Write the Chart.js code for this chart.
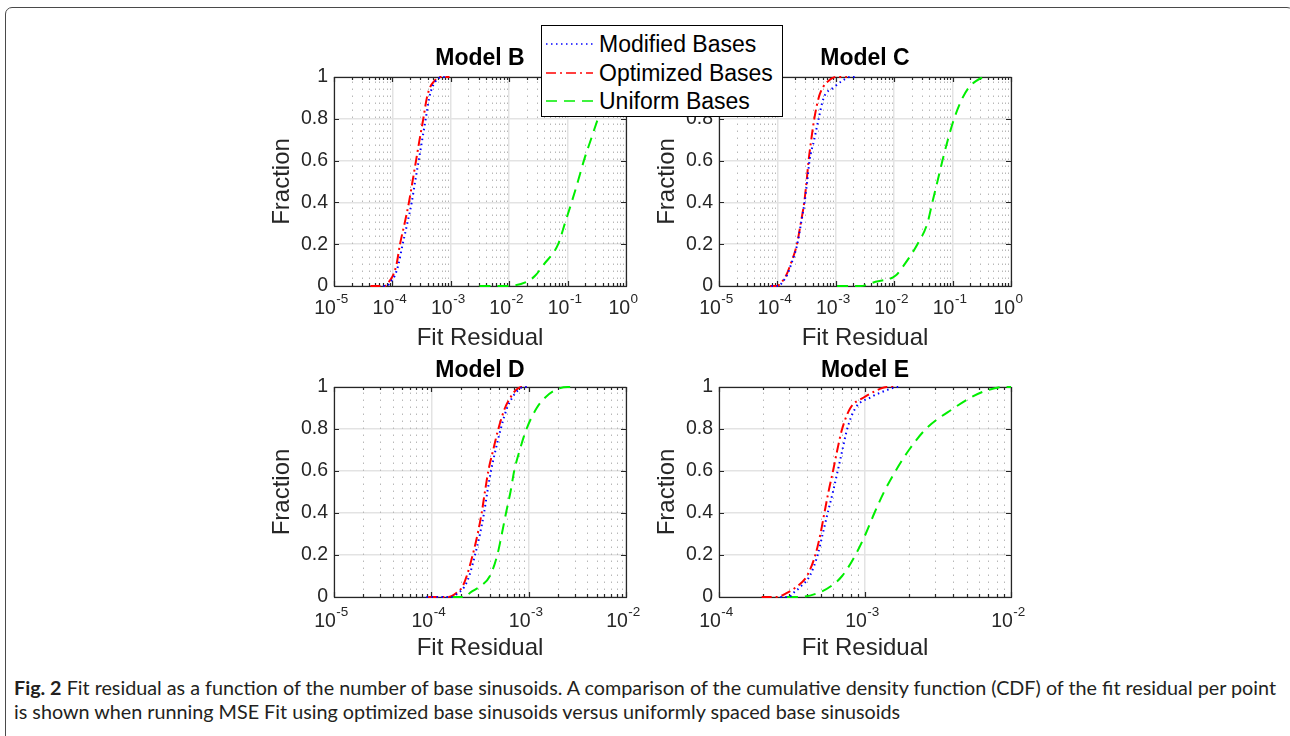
<!DOCTYPE html>
<html>
<head>
<meta charset="utf-8">
<script src="https://cdn.jsdelivr.net/npm/chart.js@4.4.0/dist/chart.umd.min.js"></script>
<style>
    body { margin: 0; width: 1290px; height: 736px; overflow: hidden; position: relative; background: #fff; font-family: "Liberation Sans", Arial, Helvetica, sans-serif; }
    .moldura { position: absolute; left: 5px; top: 7px; width: 1287px; height: 760px; border: 1.5px solid #4a4a4a; border-radius: 7px; }
    .painel { position: absolute; }
    #legenda { position: absolute; left: 541px; top: 25px; width: 242px; height: 92px; border: 1px solid #000; background: #fff; box-sizing: border-box; z-index: 5; }
    .itemLegenda { position: absolute; left: 0; height: 28px; line-height: 28px; font-size: 23px; color: #000; white-space: nowrap; }
    .itemLegenda svg { position: absolute; left: 4px; top: 9px; }
    .itemLegenda span { position: absolute; left: 57px; }
    .legenda { position: absolute; left: 14px; top: 676px; font-family: Lato, "Open Sans", sans-serif; font-size: 19.5px; line-height: 24px; color: #231f20; }
    .legenda div { white-space: nowrap; transform-origin: left top; display: inline-block; }
</style>
</head>
<body>
<div class="moldura"></div>

<div class="painel" id="painelB"><canvas id="graficoB"></canvas></div>
<div class="painel" id="painelC"><canvas id="graficoC"></canvas></div>
<div class="painel" id="painelD"><canvas id="graficoD"></canvas></div>
<div class="painel" id="painelE"><canvas id="graficoE"></canvas></div>

<div id="legenda"></div>

<div class="legenda">
    <div id="linha1"><b>Fig. 2</b> Fit residual as a function of the number of base sinusoids. A comparison of the cumulative density function (CDF) of the fit residual per point</div><br>
    <div id="linha2">is shown when running MSE Fit using optimized base sinusoids versus uniformly spaced base sinusoids</div>
</div>

<script>
// fracoes acumuladas (eixo y), comuns a todas as curvas
const fracoes = [0, 0, 0.02, 0.05, 0.1, 0.2, 0.3, 0.4, 0.5, 0.6, 0.7, 0.8, 0.9, 0.95, 0.98, 1, 1]

const nomesSeries = ['Modified Bases', 'Optimized Bases', 'Uniform Bases']
const titulosModelos = ['Model B', 'Model C', 'Model D', 'Model E']
const ticksY = [0, 0.2, 0.4, 0.6, 0.8, 1]
// decadas do eixo x de cada modelo
const expoenteMin = [-5, -5, -5, -4]
const expoenteMax = [0, 0, -2, -2]

// residuos, um valor por fracao
const residuoModificadoB = [7.0e-5, 8.0e-5, 9.3e-5, 1.10e-4, 1.26e-4, 1.50e-4, 1.80e-4, 2.14e-4, 2.45e-4, 2.82e-4, 3.24e-4, 3.72e-4, 4.27e-4, 4.8e-4, 5.5e-4, 6.9e-4, 8.9e-4]
const residuoOtimizadoB = [4.2e-5, 7.4e-5, 8.7e-5, 1.02e-4, 1.17e-4, 1.35e-4, 1.62e-4, 1.92e-4, 2.21e-4, 2.54e-4, 2.92e-4, 3.38e-4, 3.89e-4, 4.4e-4, 5.2e-4, 6.5e-4, 9.5e-4]
const residuoUniformeB = [3.1e-3, 8.5e-3, 2.0e-2, 2.8e-2, 3.84e-2, 6.9e-2, 9.0e-2, 0.117, 0.15, 0.19, 0.25, 0.33, 0.44, 0.54, 0.66, 0.83, 0.9]

const residuoModificadoC = [7.9e-5, 1.05e-4, 1.23e-4, 1.45e-4, 1.70e-4, 2.19e-4, 2.54e-4, 2.92e-4, 3.24e-4, 3.55e-4, 4.27e-4, 5.08e-4, 6.2e-4, 9.2e-4, 1.26e-3, 1.78e-3, 2.19e-3]
const residuoOtimizadoC = [7.5e-5, 9.8e-5, 1.19e-4, 1.41e-4, 1.66e-4, 2.16e-4, 2.51e-4, 2.88e-4, 3.16e-4, 3.42e-4, 3.8e-4, 4.28e-4, 5.08e-4, 6.0e-4, 7.4e-4, 1.0e-3, 1.55e-3]
const residuoUniformeC = [1.05e-3, 2.63e-3, 4.8e-3, 1.06e-2, 1.47e-2, 2.5e-2, 3.7e-2, 4.5e-2, 5.5e-2, 6.7e-2, 8.3e-2, 0.106, 0.148, 0.19, 0.25, 0.37, 0.42]

const residuoModificadoD = [8.9e-5, 1.58e-4, 1.9e-4, 2.19e-4, 2.45e-4, 2.81e-4, 3.16e-4, 3.48e-4, 3.76e-4, 4.1e-4, 4.57e-4, 5.16e-4, 6.0e-4, 6.8e-4, 7.6e-4, 8.9e-4, 1.0e-3]
const residuoOtimizadoD = [9.3e-5, 1.49e-4, 1.82e-4, 2.09e-4, 2.31e-4, 2.66e-4, 2.99e-4, 3.29e-4, 3.55e-4, 3.85e-4, 4.32e-4, 4.88e-4, 5.71e-4, 6.5e-4, 7.2e-4, 8.5e-4, 9.5e-4]
const residuoUniformeD = [1.62e-4, 2.24e-4, 2.5e-4, 3.16e-4, 4.0e-4, 4.76e-4, 5.3e-4, 5.85e-4, 6.5e-4, 7.1e-4, 8.1e-4, 9.5e-4, 1.21e-3, 1.48e-3, 1.78e-3, 2.51e-3, 3.1e-3]

const residuoModificadoE = [2.63e-4, 3.02e-4, 3.24e-4, 3.63e-4, 4.18e-4, 4.74e-4, 5.13e-4, 5.55e-4, 6.03e-4, 6.5e-4, 7.0e-4, 7.55e-4, 8.6e-4, 1.09e-3, 1.35e-3, 1.7e-3, 1.74e-3]
const residuoOtimizadoE = [1.96e-4, 2.49e-4, 2.92e-4, 3.42e-4, 4.0e-4, 4.57e-4, 4.95e-4, 5.27e-4, 5.62e-4, 6.04e-4, 6.46e-4, 6.97e-4, 7.94e-4, 9.8e-4, 1.17e-3, 1.41e-3, 1.58e-3]
const residuoUniformeE = [2.92e-4, 3.55e-4, 4.8e-4, 5.8e-4, 6.97e-4, 8.6e-4, 1.01e-3, 1.16e-3, 1.35e-3, 1.62e-3, 2.0e-3, 2.61e-3, 4.07e-3, 5.3e-3, 6.6e-3, 8.9e-3, 1.0e-2]

// estilos das series (azul pontilhado, vermelho traco-ponto, verde tracejado)
const coresSeries = ['#0000ff', '#ff0000', '#00ee00']
const tracosSeries = [[1.5, 3.5], [10, 4, 2, 4], [11, 7]]

// posicao de cada painel na pagina
const paineis = [
    { id: 'B', left: 250, top: 36, width: 400, height: 320, tituloTopo: 8.6, tituloBase: 4.8, alturaX: 70, baseRotulo: 27.5 },
    { id: 'C', left: 635, top: 36, width: 400, height: 320, tituloTopo: 8.6, tituloBase: 4.8, alturaX: 70, baseRotulo: 27.5 },
    { id: 'D', left: 250, top: 356, width: 400, height: 310, tituloTopo: 0.6, tituloBase: 2.8, alturaX: 69, baseRotulo: 29.5 },
    { id: 'E', left: 635, top: 356, width: 400, height: 310, tituloTopo: 0.6, tituloBase: 2.8, alturaX: 69, baseRotulo: 29.5 }
]
const margemDireita = 24

const residuos = [
    [residuoModificadoB, residuoOtimizadoB, residuoUniformeB],
    [residuoModificadoC, residuoOtimizadoC, residuoUniformeC],
    [residuoModificadoD, residuoOtimizadoD, residuoUniformeD],
    [residuoModificadoE, residuoOtimizadoE, residuoUniformeE]
]

const fonteBase = '"Liberation Sans", Arial, Helvetica, sans-serif'

Chart.defaults.font.family = fonteBase
Chart.defaults.color = '#262626'

// desenha grade secundaria pontilhada, caixa dos eixos, marcas internas e rotulos 10^n (estilo MATLAB)
const pluginEixos = {
    id: 'eixosMatlab',
    beforeDatasetsDraw(chart) {
        const ctx = chart.ctx
        const area = chart.chartArea
        const x = chart.scales.x
        const y = chart.scales.y
        ctx.save()
        ctx.strokeStyle = '#b8b8b8'
        ctx.lineWidth = 1
        ctx.setLineDash([1.5, 5.5])
        x.ticks.forEach((t) => {
            if (t.major) return
            const px = Math.round(x.getPixelForValue(t.value)) + 0.5
            ctx.beginPath()
            ctx.moveTo(px, area.bottom)
            ctx.lineTo(px, area.top)
            ctx.stroke()
        })
        ctx.setLineDash([])

        // caixa e marcas ficam por baixo das curvas, como no original
        ctx.strokeStyle = '#262626'
        ctx.lineWidth = 1.2
        ctx.beginPath()
        x.ticks.forEach((t) => {
            const px = Math.round(x.getPixelForValue(t.value)) + 0.5
            const tam = t.major ? 5 : 3
            ctx.moveTo(px, area.bottom)
            ctx.lineTo(px, area.bottom - tam)
            ctx.moveTo(px, area.top)
            ctx.lineTo(px, area.top + tam)
        })
        y.ticks.forEach((t) => {
            const py = Math.round(y.getPixelForValue(t.value)) + 0.5
            ctx.moveTo(area.left, py)
            ctx.lineTo(area.left + 5, py)
            ctx.moveTo(area.right, py)
            ctx.lineTo(area.right - 5, py)
        })
        ctx.stroke()
        ctx.strokeRect(Math.round(area.left) + 0.5, Math.round(area.top) + 0.5, Math.round(area.right - area.left), Math.round(area.bottom - area.top))
        ctx.restore()
    },
    afterDatasetsDraw(chart) {
        const ctx = chart.ctx
        const area = chart.chartArea
        const x = chart.scales.x
        ctx.save()
        // rotulos do eixo x: "10" com expoente sobrescrito
        const baseRotulo = chart.options.baseRotulo
        ctx.fillStyle = '#262626'
        ctx.textBaseline = 'alphabetic'
        ctx.textAlign = 'left'
        x.ticks.forEach((t) => {
            if (!t.major) return
            const exp = String(Math.round(Math.log10(t.value)))
            ctx.font = '19.5px ' + fonteBase
            const larguraBase = ctx.measureText('10').width
            ctx.font = '13.5px ' + fonteBase
            const larguraExp = ctx.measureText(exp).width
            const px = x.getPixelForValue(t.value) - 3
            const inicio = px - (larguraBase + larguraExp) / 2
            const yBase = area.bottom + baseRotulo
            ctx.font = '19.5px ' + fonteBase
            ctx.fillText('10', inicio, yBase)
            ctx.font = '13.5px ' + fonteBase
            ctx.fillText(exp, inicio + larguraBase + 0.5, yBase - 10.5)
        })
        ctx.restore()
    }
}

function criarPainel(indice) {
    const p = paineis[indice]
    const div = document.getElementById('painel' + p.id)
    div.style.left = p.left + 'px'
    div.style.top = p.top + 'px'
    div.style.width = p.width + 'px'
    div.style.height = p.height + 'px'

    const datasets = nomesSeries.map((nome, s) => ({
        label: nome,
        data: fracoes.map((f, i) => ({ x: residuos[indice][s][i], y: f })),
        borderColor: coresSeries[s],
        backgroundColor: coresSeries[s],
        borderWidth: 2,
        borderDash: tracosSeries[s],
        pointRadius: 0,
        fill: false,
        clip: 3,
        cubicInterpolationMode: 'monotone'
    }))

    const expMin = expoenteMin[indice]
    const expMax = expoenteMax[indice]

    return new Chart(document.getElementById('grafico' + p.id), {
        type: 'line',
        data: { datasets: datasets },
        plugins: [pluginEixos],
        options: {
            responsive: true,
            maintainAspectRatio: false,
            animation: false,
            baseRotulo: p.baseRotulo,
            layout: { padding: { left: 0, right: margemDireita, top: 0, bottom: 0 } },
            plugins: {
                legend: { display: false },
                tooltip: { enabled: false },
                title: {
                    display: true,
                    fullSize: false, // centraliza o titulo sobre a area do grafico
                    text: titulosModelos[indice],
                    color: '#000',
                    font: { size: 23, weight: 'bold' },
                    padding: { top: p.tituloTopo, bottom: p.tituloBase }
                }
            },
            scales: {
                x: {
                    type: 'logarithmic',
                    min: Math.pow(10, expMin),
                    max: Math.pow(10, expMax),
                    afterBuildTicks: (scale) => {
                        const lista = []
                        for (let e = expMin; e < expMax; e++) {
                            for (let m = 1; m <= 9; m++) lista.push({ value: m * Math.pow(10, e), major: m === 1 })
                        }
                        lista.push({ value: Math.pow(10, expMax), major: true })
                        scale.ticks = lista
                    },
                    afterFit: (scale) => {
                        scale.height = p.alturaX
                        scale.paddingLeft = 0
                        scale.paddingRight = 0
                        scale.paddingTop = 0
                        scale.paddingBottom = 0
                    },
                    ticks: { display: false, autoSkip: false, maxRotation: 0, minRotation: 0 },
                    grid: {
                        drawTicks: false,
                        lineWidth: 1.5,
                        color: (ctx) => (ctx.tick && ctx.tick.major) ? '#e3e3e3' : 'rgba(0,0,0,0)'
                    },
                    border: { display: false },
                    title: {
                        display: true,
                        text: 'Fit Residual',
                        color: '#262626',
                        font: { size: 24 },
                        padding: { top: 0, bottom: 3.6 }
                    }
                },
                y: {
                    type: 'linear',
                    min: 0,
                    max: 1,
                    afterBuildTicks: (scale) => {
                        scale.ticks = ticksY.map((v) => ({ value: v }))
                    },
                    afterFit: (scale) => {
                        scale.width = 84
                        scale.paddingLeft = 0
                        scale.paddingRight = 0
                        scale.paddingTop = 0
                        scale.paddingBottom = 0
                    },
                    ticks: {
                        padding: 6,
                        font: { size: 19.5 },
                        color: '#262626',
                        callback: (valor) => String(valor)
                    },
                    grid: { drawTicks: false, lineWidth: 1.5, color: '#e3e3e3' },
                    border: { display: false },
                    title: {
                        display: true,
                        text: 'Fraction',
                        color: '#262626',
                        font: { size: 24 },
                        padding: { top: 17.6, bottom: 0 }
                    }
                }
            }
        }
    })
}

function montarLegenda() {
    const legenda = document.getElementById('legenda')
    const centros = [18, 46.5, 75]
    nomesSeries.forEach((nome, s) => {
        const item = document.createElement('div')
        item.className = 'itemLegenda'
        item.style.top = (centros[s] - 14) + 'px'
        item.innerHTML = '<svg width="50" height="10"><line x1="0" y1="5" x2="47" y2="5" stroke="' + coresSeries[s] +
            '" stroke-width="1.6" stroke-dasharray="' + tracosSeries[s].join(',') + '"/></svg><span>' + nome + '</span>'
        legenda.appendChild(item)
    })
}

function ajustarLegendaFigura() {
    // a fonte original e mais estreita; comprime para a mesma largura
    const linha1 = document.getElementById('linha1')
    const linha2 = document.getElementById('linha2')
    const escala = 1262 / linha1.getBoundingClientRect().width
    linha1.style.transform = 'scaleX(' + escala + ')'
    linha2.style.transform = 'scaleX(' + escala + ')'
}

for (let i = 0; i < paineis.length; i++) criarPainel(i)
montarLegenda()
ajustarLegendaFigura()
</script>
</body>
</html>
